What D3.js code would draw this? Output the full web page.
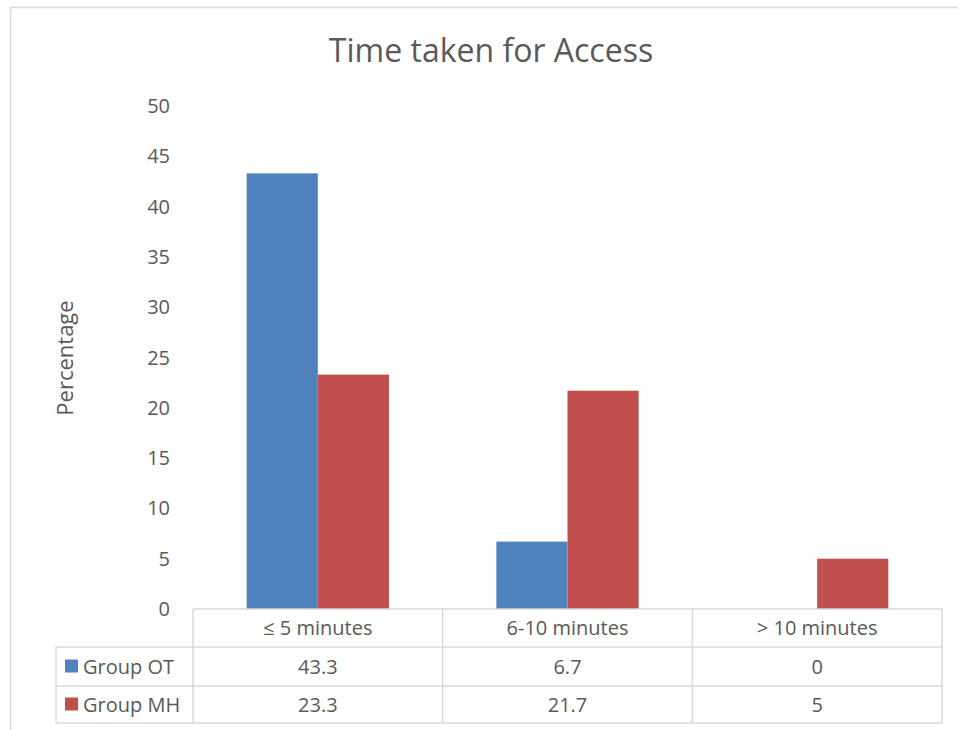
<!DOCTYPE html>
<html>
<head>
<meta charset="utf-8">
<script src="https://cdn.jsdelivr.net/npm/d3@7"></script>
<style>
  body { margin: 0; background: #fff; }
  text { font-family: "Open Sans", sans-serif; fill: #595959; }
</style>
</head>
<body>
<div id="chart"></div>
<script>
(function () {

  // data
  const categories = ["≤ 5 minutes", "6-10 minutes", "> 10 minutes"]
  const seriesNames = ["Group OT", "Group MH"]
  const groupOT = [43.3, 6.7, 0]
  const groupMH = [23.3, 21.7, 5]
  const yTicks = [0, 5, 10, 15, 20, 25, 30, 35, 40, 45, 50]
  const colors = ["#4f81bd", "#c0504d"]

  const W = 958, H = 730
  const plot = { left: 193, right: 942, top: 106, bottom: 609 }
  const rowH = [609, 647, 686, 723]
  const legendLeft = 56
  const gridColor = "#d9d9d9"

  const svg = d3.select("#chart").append("svg")
      .attr("width", W)
      .attr("height", H)

  // outer chart border
  svg.append("rect")
    .attr("x", 10.5).attr("y", 7.5)
    .attr("width", 960).attr("height", 740)
    .attr("fill", "none")
    .attr("stroke", gridColor)
    .attr("stroke-width", 1.5)

  const x = d3.scaleBand()
    .domain(categories)
    .range([plot.left, plot.right])
    .paddingInner(0)

  const sub = d3.scaleBand()
    .domain(seriesNames)
    .range([0, x.bandwidth()])
    .paddingOuter(0.755)
    .paddingInner(0)

  const y = d3.scaleLinear()
    .domain([0, 50])
    .range([plot.bottom, plot.top])

  // title
  svg.append("text")
    .attr("x", 491)
    .attr("y", 62)
    .attr("text-anchor", "middle")
    .style("font-size", "32px")
    .text("Time taken for Access")

  // y axis labels (no line, no gridlines)
  svg.selectAll(".ytick")
    .data(yTicks)
    .join("text")
    .attr("class", "ytick")
    .attr("x", 170)
    .attr("y", d => y(d))
    .attr("dy", "0.35em")
    .attr("text-anchor", "end")
    .style("font-size", "20px")
    .text(d => d)

  svg.append("text")
    .attr("transform", "translate(73,358) rotate(-90)")
    .attr("text-anchor", "middle")
    .style("font-size", "22px")
    .text("Percentage")

  // bars
  const series = [groupOT, groupMH]
  series.forEach((vals, si) => {
    svg.append("g").selectAll("rect")
      .data(vals)
      .join("rect")
      .attr("x", (d, i) => x(categories[i]) + sub(seriesNames[si]))
      .attr("width", sub.bandwidth())
      .attr("y", d => y(d))
      .attr("height", d => y(0) - y(d))
      .attr("fill", colors[si])
  })

  // data table
  const table = svg.append("g")
    .attr("fill", "none")
    .attr("stroke", gridColor)
    .attr("stroke-width", 1.5)

  // horizontal lines
  table.append("line")
    .attr("x1", plot.left).attr("x2", plot.right)
    .attr("y1", rowH[0]).attr("y2", rowH[0])
  rowH.slice(1).forEach(r => {
    table.append("line")
      .attr("x1", legendLeft).attr("x2", plot.right)
      .attr("y1", r).attr("y2", r)
  })
  // vertical lines
  table.append("line")
    .attr("x1", legendLeft).attr("x2", legendLeft)
    .attr("y1", rowH[1]).attr("y2", rowH[3])
  categories.forEach(c => {
    table.append("line")
      .attr("x1", x(c)).attr("x2", x(c))
      .attr("y1", rowH[0]).attr("y2", rowH[3])
  })
  table.append("line")
    .attr("x1", plot.right).attr("x2", plot.right)
    .attr("y1", rowH[0]).attr("y2", rowH[3])

  // header
  svg.selectAll(".cat")
    .data(categories)
    .join("text")
    .attr("class", "cat")
    .attr("x", d => x(d) + x.bandwidth() / 2)
    .attr("y", (rowH[0] + rowH[1]) / 2)
    .attr("dy", "0.35em")
    .attr("text-anchor", "middle")
    .style("font-size", "20px")
    .text(d => d)

  // rows
  series.forEach((vals, si) => {
    const cy = (rowH[si + 1] + rowH[si + 2]) / 2
    svg.append("rect")
      .attr("x", 65).attr("y", cy - 7)
      .attr("width", 13).attr("height", 13)
      .attr("fill", colors[si])
    svg.append("text")
      .attr("x", 83)
      .attr("y", cy)
      .attr("dy", "0.35em")
      .style("font-size", "20px")
      .text(seriesNames[si])
    svg.append("g").selectAll("text")
      .data(vals)
      .join("text")
      .attr("x", (d, i) => x(categories[i]) + x.bandwidth() / 2)
      .attr("y", cy)
      .attr("dy", "0.35em")
      .attr("text-anchor", "middle")
      .style("font-size", "20px")
      .text(d => d)
  })

})();
</script>
</body>
</html>
